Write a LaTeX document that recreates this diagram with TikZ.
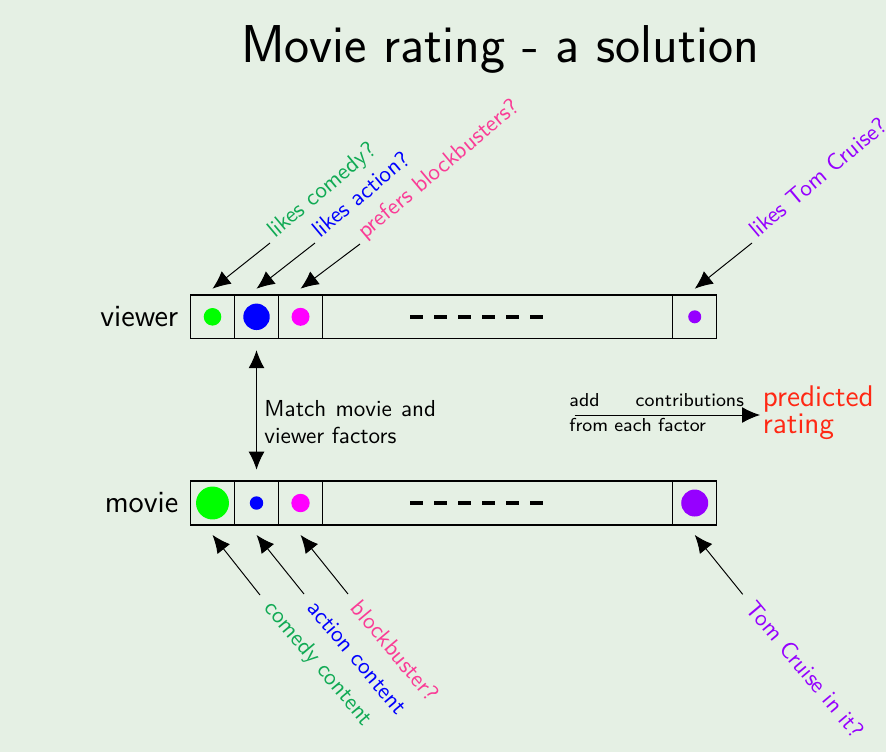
\documentclass[tikz,border=0pt]{standalone}
\usepackage{fontspec}
\usepackage{tikz}
\usetikzlibrary{positioning,arrows.meta}
\renewcommand{\familydefault}{\sfdefault}
\definecolor{bgcol}{RGB}{229,240,228}
\definecolor{likegreen}{RGB}{16,170,84}
\definecolor{likeblue}{RGB}{0,0,255}
\definecolor{likepink}{RGB}{250,60,150}
\definecolor{likepurple}{RGB}{150,0,255}
\definecolor{predred}{RGB}{255,40,20}
\definecolor{dotgreen}{RGB}{0,255,0}
\definecolor{dotblue}{RGB}{0,0,255}
\definecolor{dotmag}{RGB}{255,0,255}
\tikzset{
	cell/.style={draw, line width=0.6pt, minimum width=#1, minimum height=0.632cm, inner sep=0pt, outer sep=0pt},
	cell/.default=0.636cm,
	dashbar/.style={line width=1.4pt, dash pattern=on 1.83mm off 1.65mm},
	toplab/.style={rotate=40, anchor=base west, inner sep=2.5pt, font=\sffamily\fontsize{9.6}{11.5}\selectfont},
	botlab/.style={rotate=-50, anchor=west, inner sep=5pt, font=\sffamily\fontsize{9.6}{11.5}\selectfont},
	rowlab/.style={font=\sffamily\fontsize{12.7}{15}\selectfont}
}

\begin{document}
\begin{tikzpicture}[x=0.01445cm, y=-0.01445cm, font=\sffamily, line width=0.4pt, >={Latex[length=2.6mm,width=2.3mm]}]
	\fill[bgcol] (0,0) rectangle (886,752);
	\useasboundingbox (0,0) rectangle (886,752);

	%Titre
	\node[anchor=base, font=\sffamily\fontsize{21.9}{26}\selectfont] (title) at (500,62) {Movie rating - a solution};

	%Vecteur du spectateur
	\node[cell] (v1) at (212.5,316.8) {};
	\node[cell, right=0pt of v1] (v2) {};
	\node[cell, right=0pt of v2] (v3) {};
	\node[cell=5.06cm, right=0pt of v3] (vd) {};
	\node[cell, right=0pt of vd] (v4) {};
	\node[rowlab, left=1.5pt of v1] (viewer) {viewer};

	\fill[dotgreen] (v1.center) circle[radius=1.27mm];
	\fill[dotblue] (v2.center) circle[radius=1.91mm];
	\fill[dotmag] (v3.center) circle[radius=1.30mm];
	\fill[likepurple] (v4.center) circle[radius=0.94mm];
	\draw[dashbar] ([xshift=-12.66mm]vd.center) -- ([xshift=6.52mm]vd.center);

	%Vecteur du film
	\node[cell] (m1) at (212.5,503) {};
	\node[cell, right=0pt of m1] (m2) {};
	\node[cell, right=0pt of m2] (m3) {};
	\node[cell=5.06cm, right=0pt of m3] (md) {};
	\node[cell, right=0pt of md] (m4) {};
	\node[rowlab, left=1.5pt of m1] (movie) {movie};

	\fill[dotgreen] (m1.center) circle[radius=2.38mm];
	\fill[dotblue] (m2.center) circle[radius=0.97mm];
	\fill[dotmag] (m3.center) circle[radius=1.33mm];
	\fill[likepurple] (m4.center) circle[radius=1.95mm];
	\draw[dashbar] ([xshift=-12.66mm]md.center) -- ([xshift=6.52mm]md.center);

	%Correspondance
	\draw[<->, shorten <=1.66mm, shorten >=1.66mm] (v2.south) -- (m2.north);
	\node[anchor=base west, text width=2.48cm, align=justify, inner sep=0pt, font=\sffamily\fontsize{9.5}{11.1}\selectfont] (match) at (264,416) {Match movie and viewer factors};

	%Somme
	\coordinate (sumL) at (574.7,415);
	\node[anchor=base west, text width=2.52cm, align=left, inner sep=0pt, font=\sffamily\fontsize{7.7}{10.25}\selectfont] (sumtxt) at (569,406.7) {add\hfill contributions\\from each factor};
	\node[anchor=base west, align=left, inner sep=1pt, text=predred, font=\sffamily\fontsize{12.3}{10.9}\selectfont] (pred) at (760,433.3) {predicted\\rating};
	\draw[->] (sumL) -- (sumL -| pred.west);

	%Etiquettes du spectateur
	\node[toplab, text=likegreen] (lcom) at (270,243) {likes comedy?};
	\node[toplab, text=likeblue] (lact) at (315,243) {likes action?};
	\node[toplab, text=likepink] (lblk) at (360,244) {prefers blockbusters?};
	\node[toplab, text=likepurple] (ltom) at (752,243) {likes Tom Cruise?};
	\draw[->] (lcom.base west) -- ([yshift=0.9mm]v1.north);
	\draw[->] (lact.base west) -- ([yshift=0.9mm]v2.north);
	\draw[->] (lblk.base west) -- ([yshift=0.9mm]v3.north);
	\draw[->] (ltom.base west) -- ([yshift=0.9mm]v4.north);

	%Etiquettes du film
	\node[botlab, text=likegreen] (ccom) at (260,595) {comedy content};
	\node[botlab, text=likeblue] (cact) at (304,594) {action content};
	\node[botlab, text=likepink] (cblk) at (348,594) {blockbuster?};
	\node[botlab, text=likepurple] (ctom) at (742.7,594.3) {Tom Cruise in it?};
	\draw[->] (ccom.west) -- ([yshift=-1.45mm]m1.south);
	\draw[->] (cact.west) -- ([yshift=-1.45mm]m2.south);
	\draw[->] (cblk.west) -- ([yshift=-1.45mm]m3.south);
	\draw[->] (ctom.west) -- ([yshift=-1.45mm]m4.south);
\end{tikzpicture}
\end{document}
